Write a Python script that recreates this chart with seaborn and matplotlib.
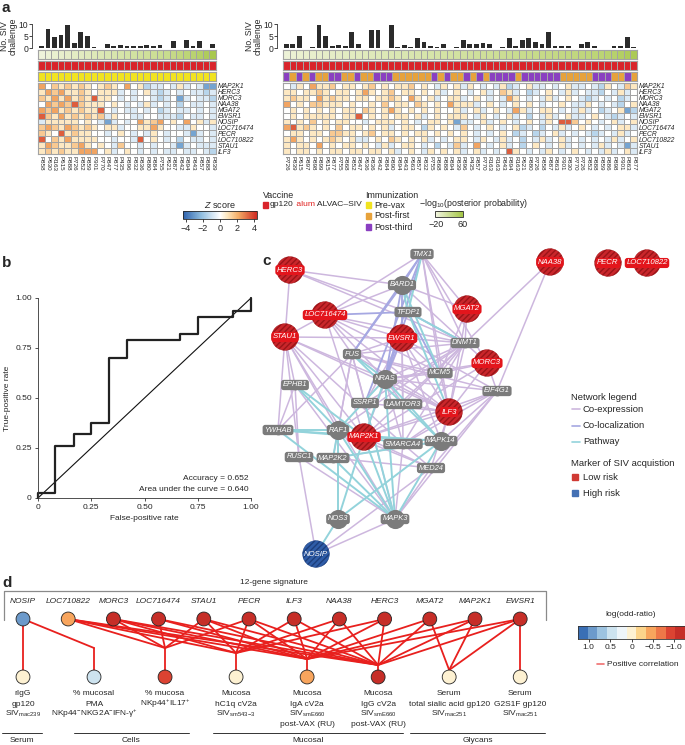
"""
SIV acquisition signature figure: heatmaps (a), ROC (b), gene network (c), correlates (d)
"""
import numpy as np
import matplotlib
matplotlib.use("Agg")
import matplotlib.pyplot as plt
from matplotlib.colors import LinearSegmentedColormap, ListedColormap, Normalize
from matplotlib.cm import ScalarMappable
import seaborn as sns

sns.set_theme(style="white")
plt.rcParams["font.family"] = ["Liberation Sans", "DejaVu Sans"]
plt.rcParams["mathtext.fontset"] = "custom"
plt.rcParams["mathtext.rm"] = "Liberation Sans"
plt.rcParams["mathtext.it"] = "Liberation Sans:italic"
plt.rcParams["hatch.linewidth"] = 1.0

W, H = 685, 745
fig = plt.figure(figsize=(W / 100, H / 100), dpi=100)


def px_axes(x0, y0, x1, y1):
    return fig.add_axes([x0 / W, 1 - y1 / H, (x1 - x0) / W, (y1 - y0) / H])


# ---------- data: panel a ----------
genes = ["MAP2K1", "HERC3", "MORC3", "NAA38", "MGAT2", "EWSR1", "NOSIP",
         "LOC716474", "PECR", "LOC710822", "STAU1", "ILF3"]

left_animals = ["P858", "P630", "R163", "P615", "P888", "P726", "P852", "P859", "P901",
                "P770", "P847", "P877", "P435", "P896", "P832", "P836", "P880", "P884",
                "P755", "P621", "P887", "P842", "P894", "P843", "P857", "P888", "P839"]
right_animals = ["P726", "P839", "P615", "P897", "P898", "P899", "P615", "P877", "P755",
                 "P868", "P852", "P847", "P636", "P836", "P842", "P884", "P890", "P894",
                 "P843", "P663", "P857", "P832", "P755", "P868", "P888", "P894", "P839",
                 "P896", "P435", "P857", "P770", "R163", "R163", "P843", "P894", "R163",
                 "P621", "P880", "P726", "P858", "P887", "P863", "P901", "P830", "P770",
                 "P726", "P852", "P888", "P859", "P886", "P898", "P901", "P863", "P877"]

left_challenges = [1, 8, 4.5, 5.5, 9.5, 2, 6.5, 5, 0.5, 0, 1.5, 0.8, 1.3, 0.8, 0.8, 0.8,
                   1.3, 0.8, 1.3, 0, 3, 0, 3.5, 0.8, 3, 0, 1.8]
right_challenges = [1.5, 1.5, 5, 0, 0.5, 9.5, 5, 0.7, 1.2, 0.7, 6.5, 1.5, 0, 7.5, 7.5, 0,
                    9.5, 0.5, 1.2, 0.5, 4, 2.5, 1, 0.5, 1.5, 0, 0.5, 3.5, 1.5, 1.5, 2, 1.5,
                    0, 0.5, 4, 1, 3.5, 4, 2.5, 1.5, 6.5, 0.8, 0.8, 1, 0, 1.5, 2.5, 1, 0, 0,
                    0.8, 0.8, 4.5, 0.5]

left_posterior = [-18, -15, -12, -10, -8, -6, -4, -2, 0, 2, 4, 6, 8, 10, 12, 14, 16, 18,
                  20, 22, 26, 30, 34, 38, 42, 48, 56]
right_posterior = [-16, -14, -12, -11, -10, -9, -8, -7, -6, -5, -4, -3, -2, -1, 0, 1, 2,
                   3, 4, 5, 6, 7, 8, 9, 10, 11, 12, 13, 14, 15, 16, 17, 18, 19, 20, 21, 22,
                   23, 24, 25, 26, 27, 28, 29, 30, 31, 32, 34, 36, 38, 40, 44, 48, 52]

# Y = pre-vax, O = post-first, P = post-third
left_immunization = "Y" * 27
right_immunization = ("POPOPOOPPOOPOOPPPOOOOOOPOPO"
                      "OPOPOPPPPOPPPPPPOOOOOPPPOOPO")

# Z-score levels per cell
Z_LEVEL = {"B": -2.8, "b": -1.4, "l": -0.7, ".": 0.0, "c": 0.8, "o": 1.5, "O": 2.3, "R": 3.5}
left_z = ["O.ocococ.coc.O.cbll.lcl.lBB",
          "cOoOccoc.cccl.l.clbl.l.llbl",
          "ocOcOcocRcc.l.l..lbl.Bl.llb",
          ".OoOoRoccc.c.l.lcl.l.b.ll.l",
          "OoOcococcR.l.ll.l.bl.ll.l.l",
          "RocOcococolc..ll..lllb.ll.l",
          "lccccc.c.lBl.l.OcoO.c.O.clc",
          "oOocOococ.ccl..ccOc..llc..l",
          "oc.Rcocc..l.c.l.lc.l..lBl.l",
          "R.ocOcccc..l..lR.c.l.b.ll.l",
          "cOoccoOc.c.lo..l.l..lBl.lll",
          "cococcOOO.cl.c.l.l.ll.ll.lb"]
right_z = [".lc.Occo.cc.co.c.cco.c.lc.c" + "lc.l.lcbl.cll.l.cll.lbc.loc",
           "cc.ccoc.cc.cOc.co.cc.c.cl.c" + ".l.cl.ocl.bl.c.lcl.llb.lcl.",
           "cocc.Ococc.cc.ccoc.Oc.cl.cc" + "l.c.l.lOc.l.lcl.c.lbl.l.bl.",
           "O.c.ooccc.c..c.o.cc.oc.c.Oc" + "ccl.c.l.c.c.l..c.llc.l.lb.c",
           ".c.c.c.c.cc.oc.cOc.c.c.c..c" + "l.cl.c.lOcl.cc.l.lcl.bl.cBb",
           ".c.ccccc.ccR.c.c.cc.cl.c.cc" + "c.lc.l.cl.b.lcl.cll.c.lbl.l",
           "c.c.o.c.cc..l.ccc.c.l.cc.cB" + "ll.cl.c.l.c.lc.RRo.c.l.cl.c",
           "ORcoc.c.o.cc.c.cl.cc.bc.c.l" + "o.l.c.l.cbl.b.lcl.c.l.l.ccl",
           ".cc.cc.oocc.co.cc.c.cc.c.c." + "c.l.l.c.bl.bl.cl.l.lbl.lcl.",
           "cOc.c.coc.cll.c.oc.c.cl.l.c" + "c.lc.lcl.b.lcl.cl.l.l.lcl.c",
           "c.cc.O.c.cc.c.lcl.cc.l.b.lo" + "l.O.l.cl.b.c.l.cl.l.lcl.lBl",
           "c.cc.c.cc.cc.cc.cl.c.lc.c.c" + "l.cl.l.Rc.l.lc.l.c.l.lcl.cl"]

# ---------- data: panel b ----------
roc_fpr = [0, 0, 0.08, 0.08, 0.167, 0.167, 0.25, 0.25, 0.333, 0.333, 0.417, 0.417,
           0.667, 0.667, 0.75, 0.75, 0.917, 0.917, 1.0, 1.0]
roc_tpr = [0, 0.025, 0.025, 0.26, 0.26, 0.32, 0.32, 0.375, 0.375, 0.70, 0.70, 0.79,
           0.79, 0.82, 0.82, 0.905, 0.905, 0.935, 0.935, 1.0]

# ---------- data: panel c (network layout) ----------
net_nodes = {
    "HERC3": (290, 270, "red"), "TMX1": (422, 254, "gray"), "BARD1": (402, 285, "grayc"),
    "TFDP1": (408, 312, "gray"), "LOC716474": (325, 315, "red"), "MGAT2": (467, 309, "red"),
    "STAU1": (285, 337, "red"), "EWSR1": (402, 338, "red"), "DNMT1": (465, 343, "gray"),
    "NAA38": (550, 262, "red"), "PECR": (608, 263, "red"), "LOC710822": (647, 263, "red"),
    "FUS": (352, 354, "gray"), "MORC3": (487, 363, "red"), "MCM5": (440, 373, "gray"),
    "NRAS": (385, 379, "grayc"), "EIF4G1": (497, 391, "gray"), "EPHB1": (295, 385, "gray"),
    "SSRP1": (365, 403, "gray"), "LAMTOR3": (403, 404, "gray"), "ILF3": (449, 412, "red"),
    "YWHAB": (278, 430, "gray"), "RAF1": (338, 430, "grayc"), "MAP2K1": (364, 437, "red"),
    "SMARCA4": (403, 444, "gray"), "MAPK14": (441, 441, "grayc"), "RUSC1": (299, 457, "gray"),
    "MAP2K2": (333, 458, "gray"), "MED24": (431, 468, "gray"), "NOS3": (338, 519, "grayc"),
    "MAPK3": (395, 519, "grayc"), "NOSIP": (316, 554, "blue"),
}
coexpression = [
    ("HERC3", "STAU1"), ("HERC3", "BARD1"), ("HERC3", "DNMT1"), ("HERC3", "TFDP1"),
    ("TMX1", "LOC716474"), ("TMX1", "MGAT2"), ("TMX1", "DNMT1"), ("TMX1", "MORC3"),
    ("TMX1", "ILF3"), ("TMX1", "MCM5"), ("NAA38", "DNMT1"), ("NAA38", "EIF4G1"),
    ("LOC716474", "STAU1"), ("LOC716474", "BARD1"), ("LOC716474", "EWSR1"),
    ("LOC716474", "DNMT1"), ("LOC716474", "FUS"), ("LOC716474", "NRAS"),
    ("LOC716474", "ILF3"), ("LOC716474", "MCM5"), ("LOC716474", "MAP2K1"),
    ("STAU1", "EPHB1"), ("STAU1", "YWHAB"), ("STAU1", "RAF1"), ("STAU1", "NRAS"),
    ("STAU1", "ILF3"), ("STAU1", "MAP2K1"), ("STAU1", "SMARCA4"), ("STAU1", "MAPK3"),
    ("STAU1", "RUSC1"), ("STAU1", "EWSR1"), ("EWSR1", "DNMT1"), ("EWSR1", "FUS"),
    ("EWSR1", "MCM5"), ("EWSR1", "ILF3"), ("EWSR1", "SSRP1"), ("EWSR1", "LAMTOR3"),
    ("EWSR1", "MAP2K1"), ("EWSR1", "SMARCA4"), ("EWSR1", "MAPK14"), ("EWSR1", "EIF4G1"),
    ("MGAT2", "DNMT1"), ("MGAT2", "BARD1"), ("MGAT2", "MCM5"), ("MGAT2", "ILF3"),
    ("MORC3", "DNMT1"), ("MORC3", "MCM5"), ("MORC3", "EIF4G1"), ("MORC3", "NRAS"),
    ("MORC3", "ILF3"), ("MORC3", "MAP2K1"), ("DNMT1", "BARD1"), ("DNMT1", "FUS"),
    ("DNMT1", "NRAS"), ("DNMT1", "MCM5"), ("DNMT1", "ILF3"), ("DNMT1", "MAP2K1"),
    ("DNMT1", "SSRP1"), ("DNMT1", "LAMTOR3"), ("DNMT1", "RAF1"), ("DNMT1", "SMARCA4"),
    ("EIF4G1", "ILF3"), ("EIF4G1", "MAPK14"), ("EIF4G1", "MAPK3"), ("EIF4G1", "MED24"),
    ("EIF4G1", "NRAS"), ("EIF4G1", "MAP2K1"), ("EIF4G1", "SMARCA4"), ("EIF4G1", "FUS"),
    ("ILF3", "MCM5"), ("ILF3", "MAPK14"), ("ILF3", "NRAS"), ("ILF3", "SMARCA4"),
    ("ILF3", "MED24"), ("ILF3", "MAP2K1"), ("ILF3", "LAMTOR3"), ("ILF3", "FUS"),
    ("ILF3", "SSRP1"), ("FUS", "SSRP1"), ("FUS", "RAF1"), ("FUS", "MAP2K2"),
    ("FUS", "YWHAB"), ("FUS", "MAPK3"), ("FUS", "MCM5"), ("NRAS", "MCM5"),
    ("NRAS", "SMARCA4"), ("NRAS", "LAMTOR3"), ("NOSIP", "MAPK3"), ("NOSIP", "RUSC1"),
    ("NOSIP", "MED24"), ("MAPK3", "MED24"), ("MAPK3", "EPHB1"), ("MAPK3", "SMARCA4"),
    ("MAPK3", "RUSC1"), ("MED24", "MAP2K1"), ("MED24", "RAF1"), ("MED24", "MAP2K2"),
    ("MED24", "SMARCA4"), ("EPHB1", "YWHAB"), ("EPHB1", "RUSC1"), ("MAP2K2", "MAPK14"),
]
colocalization = [
    ("TMX1", "BARD1"), ("TMX1", "NRAS"), ("TMX1", "FUS"), ("TMX1", "SSRP1"),
    ("BARD1", "NRAS"), ("BARD1", "EWSR1"), ("TFDP1", "NRAS"), ("TFDP1", "LOC716474"),
    ("EWSR1", "NRAS"), ("DNMT1", "TFDP1"), ("FUS", "BARD1"), ("TFDP1", "MCM5"),
]
pathway = [
    ("YWHAB", "RAF1"), ("YWHAB", "MAP2K1"), ("YWHAB", "MAPK3"), ("RAF1", "MAP2K1"),
    ("RAF1", "MAP2K2"), ("RAF1", "NRAS"), ("RAF1", "MAPK3"), ("MAP2K1", "MAPK14"),
    ("MAP2K1", "MAPK3"), ("MAP2K1", "NRAS"), ("MAP2K1", "SMARCA4"), ("MAP2K2", "MAPK3"),
    ("MAPK14", "MAPK3"), ("MAPK14", "NRAS"), ("EPHB1", "MAP2K1"), ("EPHB1", "RAF1"),
    ("FUS", "NRAS"), ("FUS", "MAPK14"), ("TFDP1", "DNMT1"), ("TFDP1", "ILF3"),
    ("BARD1", "TFDP1"), ("BARD1", "MCM5"), ("TMX1", "TFDP1"), ("NOS3", "NOSIP"),
    ("NOS3", "MAPK14"), ("NOS3", "MAP2K1"), ("NOS3", "RAF1"), ("MAPK3", "NRAS"),
    ("MAP2K2", "MAPK14"), ("SSRP1", "MAPK3"), ("YWHAB", "MAPK14"),
]

# ---------- data: panel d ----------
signature = ["NOSIP", "LOC710822", "MORC3", "LOC716474", "STAU1", "PECR", "ILF3",
             "NAA38", "HERC3", "MGAT2", "MAP2K1", "EWSR1"]
signature_logodds = [1.0, -0.45, -1.1, -1.1, -1.1, -1.1, -1.1, -1.1, -1.1, -1.1, -1.1, -1.1]
correlates = [
    ["rIgG", "gp120", r"SIV$_{\mathrm{mac239}}$"],
    ["% mucosal", "PMA", r"NKp44$^{-}$NKG2A$^{-}$IFN-γ$^{+}$"],
    ["% mucosa", r"NKp44$^{+}$IL17$^{+}$"],
    ["Mucosa", "hC1q cV2a", r"SIV$_{\mathrm{sm543\!-\!3}}$"],
    ["Mucosa", "IgA cV2a", r"SIV$_{\mathrm{smE660}}$", "post-VAX (RU)"],
    ["Mucosa", "IgG cV2a", r"SIV$_{\mathrm{smE660}}$", "post-VAX (RU)"],
    ["Serum", "total sialic acid gp120", r"SIV$_{\mathrm{mac251}}$"],
    ["Serum", "G2S1F gp120", r"SIV$_{\mathrm{mac251}}$"],
]
correlate_logodds = [0.1, 0.35, -0.85, -0.1, -0.4, -1.1, -0.08, 0.08]
all_but_nosip = signature[1:]
correlate_links = [
    ["NOSIP"], ["NOSIP"],
    ["LOC710822", "MORC3", "LOC716474", "STAU1", "PECR"],
    ["LOC710822", "MORC3", "STAU1", "PECR", "ILF3", "NAA38", "HERC3"],
    all_but_nosip, all_but_nosip,
    ["MGAT2", "MAP2K1", "EWSR1"], ["EWSR1"],
]
correlate_groups = [("Serum", 2, 42), ("Cells", 74, 189), ("Mucosal", 213, 403),
                    ("Glycans", 410, 545)]

# ---------- colours ----------
GRID = "#a3a3a3"
z_cmap = LinearSegmentedColormap.from_list(
    "z", [(0, "#2e62ad"), (0.25, "#92bfe0"), (0.5, "#ffffff"), (0.6, "#fde6bd"),
          (0.75, "#f3ac66"), (1, "#cf2a22")])
post_cmap = LinearSegmentedColormap.from_list("post", ["#f4f6e4", "#a3c544"])
imm_colors = {"Y": "#f1e31f", "O": "#e7a23b", "P": "#8a3fc1"}
vac_color = "#d9242b"
odds_colors = ["#3a6fb5", "#6c9acb", "#9dc3e0", "#cde3ef", "#eef5f9", "#fdf1d2",
               "#fcd48b", "#f8a55d", "#ee7748", "#dc4332", "#c62e28"]
odds_cmap = ListedColormap(odds_colors[::-1])
odds_norm = Normalize(-1.25, 1.25)


def strip(ax, values, cmap, vmin, vmax):
    sns.heatmap(np.atleast_2d(values), ax=ax, cmap=cmap, vmin=vmin, vmax=vmax, cbar=False,
                linewidths=0.6, linecolor=GRID, xticklabels=False, yticklabels=False)
    for s in ax.spines.values():
        s.set_visible(True)
        s.set_color(GRID)
        s.set_linewidth(0.8)


# ---------- a: heatmaps ----------
blocks = [
    (38, 216, left_challenges, left_posterior, left_immunization, left_z, left_animals),
    (283, 637, right_challenges, right_posterior, right_immunization, right_z, right_animals),
]
for x0, x1, bars, post, imm, zrows, animals in blocks:
    n = len(bars)
    axb = px_axes(x0, 24, x1, 48)
    sns.barplot(x=list(range(n)), y=bars, color="#2b2b2b", width=0.72, ax=axb,
                saturation=1, linewidth=0, edgecolor="none")
    axb.set_xlim(-0.5, n - 0.5)
    axb.set_ylim(0, 10)
    axb.set_yticks([0, 5, 10])
    axb.set_xticks([])
    axb.set_xlabel("")
    axb.set_ylabel("No. SIV\nchallenge", fontsize=6.2, labelpad=1, linespacing=0.95)
    for s in ["top", "right", "bottom"]:
        axb.spines[s].set_visible(False)
    axb.spines["left"].set_position(("outward", 4))
    axb.spines["left"].set_linewidth(0.6)
    axb.spines["left"].set_color("#333333")
    axb.tick_params(axis="y", left=True, length=2, width=0.6, labelsize=6.2, pad=1)
    axb.patch.set_alpha(0)

    strip(px_axes(x0, 50, x1, 59), post, post_cmap, -23, 61)
    strip(px_axes(x0, 61, x1, 70), [0] * n, ListedColormap([vac_color]), 0, 1)
    imm_codes = ["YOP".index(c) for c in imm]
    strip(px_axes(x0, 72, x1, 81), imm_codes,
          ListedColormap([imm_colors[k] for k in "YOP"]), 0, 2)

    axh = px_axes(x0, 83, x1, 154)
    zmat = np.array([[Z_LEVEL[c] for c in row] for row in zrows])
    sns.heatmap(zmat, ax=axh, cmap=z_cmap, vmin=-4.35, vmax=4.35, cbar=False,
                linewidths=0.6, linecolor=GRID, xticklabels=animals, yticklabels=genes)
    for s in axh.spines.values():
        s.set_visible(True)
        s.set_color(GRID)
        s.set_linewidth(0.8)
    axh.yaxis.tick_right()
    axh.tick_params(axis="y", length=0, pad=1.5, labelsize=4.9, labelrotation=0)
    axh.tick_params(axis="x", length=0, pad=1.5, labelsize=4.5, labelrotation=270)
    for t in axh.get_yticklabels():
        t.set_style("italic")
    for t in axh.get_xticklabels():
        t.set_va("top")

# overlay for free text
ov = fig.add_axes([0, 0, 1, 1], zorder=10)
ov.set_xlim(0, W)
ov.set_ylim(H, 0)
ov.axis("off")
ov.patch.set_alpha(0)

for lab, (lx, ly) in zip("abcd", [(2, 1), (2, 256), (262, 254), (2, 576)]):
    ov.text(lx, ly, lab, fontsize=11, fontweight="bold", va="top", ha="left")

# Z score colorbar
cax = px_axes(183, 211, 257, 219)
cb = fig.colorbar(ScalarMappable(Normalize(-4.35, 4.35), z_cmap), cax=cax,
                  orientation="horizontal", ticks=[-4, -2, 0, 2, 4])
cb.ax.set_xticklabels(["\u22124", "\u22122", "0", "2", "4"])
cb.ax.tick_params(labelsize=6.5, length=2, width=0.6, pad=1.5, bottom=True)
cb.outline.set_linewidth(0.6)
ov.text(220, 205, r"$Z$ score", fontsize=6.5, ha="center", va="center")

# vaccine / immunization legends
ov.text(263, 196, "Vaccine", fontsize=6.4, va="center")
ov.add_patch(plt.Rectangle((263, 202), 5.5, 5.5, color=vac_color))
t_gp = ov.text(270, 205, "gp120", fontsize=6.1, va="center")
t_alum = ov.annotate(" alum", xy=(1, 0.5), xycoords=t_gp, fontsize=6.1, va="center",
                     color="#e0201e")
ov.annotate(" ALVAC\u2013SIV", xy=(1, 0.5), xycoords=t_alum, fontsize=6.1, va="center")
ov.text(365, 196, "Immunization", fontsize=6.4, va="center")
for k, (lab, yy) in enumerate([("Pre-vax", 205), ("Post-first", 216), ("Post-third", 227)]):
    ov.add_patch(plt.Rectangle((366, yy - 3), 5.5, 5.5, color=imm_colors["YOP"[k]]))
    ov.text(374, yy, lab, fontsize=6.4, va="center")
ov.text(419, 203, r"$-$log$_{10}$(posterior probability)", fontsize=6.4, va="center")
cax2 = px_axes(435, 211, 463, 217)
cb2 = fig.colorbar(ScalarMappable(Normalize(-23, 61), post_cmap), cax=cax2,
                   orientation="horizontal", ticks=[-20, 60])
cb2.ax.set_xticklabels(["\u221220", "60"])
cb2.ax.tick_params(labelsize=6.5, length=0, pad=2.5)
cb2.outline.set_linewidth(0.6)

# ---------- b: ROC ----------
axr = px_axes(38, 298, 251, 498)
sns.lineplot(x=[0, 1], y=[0, 1], color="#111111", lw=0.8, ax=axr)
sns.lineplot(x=roc_fpr, y=roc_tpr, sort=False, estimator=None, color="#222222", lw=1.6,
             ax=axr)
for line in axr.get_lines():
    line.set_clip_on(False)
axr.set_xlim(0, 1)
axr.set_ylim(0, 1)
axr.set_xticks([0, 0.25, 0.5, 0.75, 1])
axr.set_xticklabels(["0", "0.25", "0.50", "0.75", "1.00"])
axr.set_yticks([0, 0.25, 0.5, 0.75, 1])
axr.set_yticklabels(["0", "0.25", "0.50", "0.75", "1.00"])
axr.set_xlabel("False-positive rate", fontsize=6, labelpad=3)
axr.set_ylabel("True-positive rate", fontsize=6, labelpad=3)
axr.tick_params(axis="both", bottom=True, left=True, length=2.5, width=0.6, labelsize=6,
                pad=2, color="#333333")
for s in ["top", "right"]:
    axr.spines[s].set_visible(False)
for s in ["left", "bottom"]:
    axr.spines[s].set_linewidth(0.6)
    axr.spines[s].set_color("#333333")
axr.text(0.99, 0.095, "Accuracy = 0.652", fontsize=6, ha="right", va="center",
         transform=axr.transAxes)
axr.text(0.99, 0.042, "Area under the curve = 0.640", fontsize=6, ha="right", va="center",
         transform=axr.transAxes)

# ---------- c: network ----------
axc = px_axes(260, 245, 685, 572)
axc.set_xlim(260, 685)
axc.set_ylim(572, 245)
axc.axis("off")
axc.patch.set_alpha(0)
edge_styles = [(coexpression, "#cdb7de", 1.1), (colocalization, "#a6a8e2", 1.3),
               (pathway, "#93d3db", 1.4)]
for edges, col, lw in edge_styles:
    for a, b in edges:
        xa, ya, _ = net_nodes[a]
        xb, yb, _ = net_nodes[b]
        axc.plot([xa, xb], [ya, yb], color=col, lw=lw, zorder=1, solid_capstyle="round")

for name, (x, y, kind) in net_nodes.items():
    if kind in ("red", "blue"):
        face, edge, box = ("#c9262b", "#9b1418", "#e3151c") if kind == "red" else \
            ("#2f5da8", "#1d3f7c", None)
        axc.scatter([x], [y], s=370, color=face, edgecolors=edge, linewidths=0.3,
                    hatch="//////", zorder=3)
        bbox = dict(boxstyle="round,pad=0.2,rounding_size=0.35", fc=box, ec="none") \
            if box else None
        axc.text(x, y, name, fontsize=5.6, color="white", style="italic", ha="center",
                 va="center", bbox=bbox, zorder=4)
    else:
        size = 190 if kind == "grayc" else 50
        axc.scatter([x], [y], s=size, color="#7b7b7b", linewidths=0, zorder=3)
        axc.text(x, y, name, fontsize=5.4, color="white", style="italic", ha="center",
                 va="center", zorder=4,
                 bbox=dict(boxstyle="round,pad=0.22,rounding_size=0.35", fc="#7b7b7b",
                           ec="none"))

ov.text(571, 397, "Network legend", fontsize=6.8, va="center")
for lab, col, yy in [("Co-expression", "#cdb7de", 409), ("Co-localization", "#a6a8e2", 426),
                     ("Pathway", "#93d3db", 442)]:
    ov.plot([572, 580], [yy, yy], color=col, lw=1.2)
    ov.text(583, yy, lab, fontsize=6.8, va="center")
ov.text(571, 464, "Marker of SIV acquistion", fontsize=6.8, va="center")
for lab, col, yy in [("Low risk", "#d03a34", 477), ("High risk", "#4470b4", 493)]:
    ov.add_patch(plt.Rectangle((572, yy - 3), 6, 6, color=col))
    ov.text(583, yy, lab, fontsize=6.8, va="center")

# ---------- d: correlates ----------
axd = px_axes(0, 575, 560, 745)
axd.set_xlim((0 - 23) / 45.2, (560 - 23) / 45.2)
axd.set_ylim(745, 575)
axd.axis("off")
axd.patch.set_alpha(0)
top_y, bot_y = 619, 677
top_x = np.arange(len(signature))
bot_x = np.linspace(0, len(signature) - 1, len(correlates))
junction_y = [top_y, 648, 648, 653, 659, 665, 670, top_y]
for j, genes_j in enumerate(correlate_links):
    for g in genes_j:
        i = signature.index(g)
        axd.plot([top_x[i], bot_x[j]], [top_y, junction_y[j]], color="#e8201e", lw=1.3,
                 zorder=1)
    axd.plot([bot_x[j], bot_x[j]], [junction_y[j], bot_y], color="#e8201e", lw=1.3,
             zorder=1)
axd.scatter(top_x, [top_y] * len(top_x), s=100, c=signature_logodds, cmap=odds_cmap,
            norm=odds_norm, edgecolors="#222222", linewidths=0.6, zorder=3)
axd.scatter(bot_x, [bot_y] * len(bot_x), s=100, c=correlate_logodds, cmap=odds_cmap,
            norm=odds_norm, edgecolors="#222222", linewidths=0.6, zorder=3)
for i, g in enumerate(signature):
    axd.text(top_x[i], 601, g, fontsize=6, style="italic", ha="center", va="center")
line_y = [693, 704, 714, 724]
for j, lines in enumerate(correlates):
    for k, txt in enumerate(lines):
        axd.text(bot_x[j], line_y[k], txt, fontsize=6, ha="center", va="center")

ov.plot([4, 4, 546, 546], [620, 591, 591, 620], color="#8a8a8a", lw=0.9)
ov.text(274, 583, "12-gene signature", fontsize=6, ha="center", va="center")
for lab, gx0, gx1 in correlate_groups:
    ov.plot([gx0, gx1], [733, 733], color="#333333", lw=0.7)
    ov.text((gx0 + gx1) / 2, 741, lab, fontsize=6, ha="center", va="center")

# log(odd-ratio) legend
axo = px_axes(578, 626, 685, 639)
edges_o = np.linspace(1.25, -1.25, len(odds_colors) + 1)
axo.bar(x=(edges_o[:-1] + edges_o[1:]) / 2, height=1, width=-np.diff(edges_o),
        color=odds_colors, edgecolor="none")
axo.set_xlim(1.25, -1.25)
axo.set_ylim(0, 1)
axo.set_yticks([])
axo.set_xticks([1.0, 0.5, 0, -0.5, -1.0])
axo.set_xticklabels(["1.0", "0.5", "0", "\u22120.5", "\u22121.0"])
axo.tick_params(axis="x", bottom=True, length=2, width=0.6, labelsize=6, pad=1.5)
for s in axo.spines.values():
    s.set_linewidth(0.6)
    s.set_color("#333333")
ov.text(631, 614, "log(odd-ratio)", fontsize=6, ha="center", va="center")
ov.plot([597, 604], [664, 664], color="#f07070", lw=1.2)
ov.text(607, 664, "Positive correlation", fontsize=6, va="center")

fig.savefig("out.png", dpi=100)
